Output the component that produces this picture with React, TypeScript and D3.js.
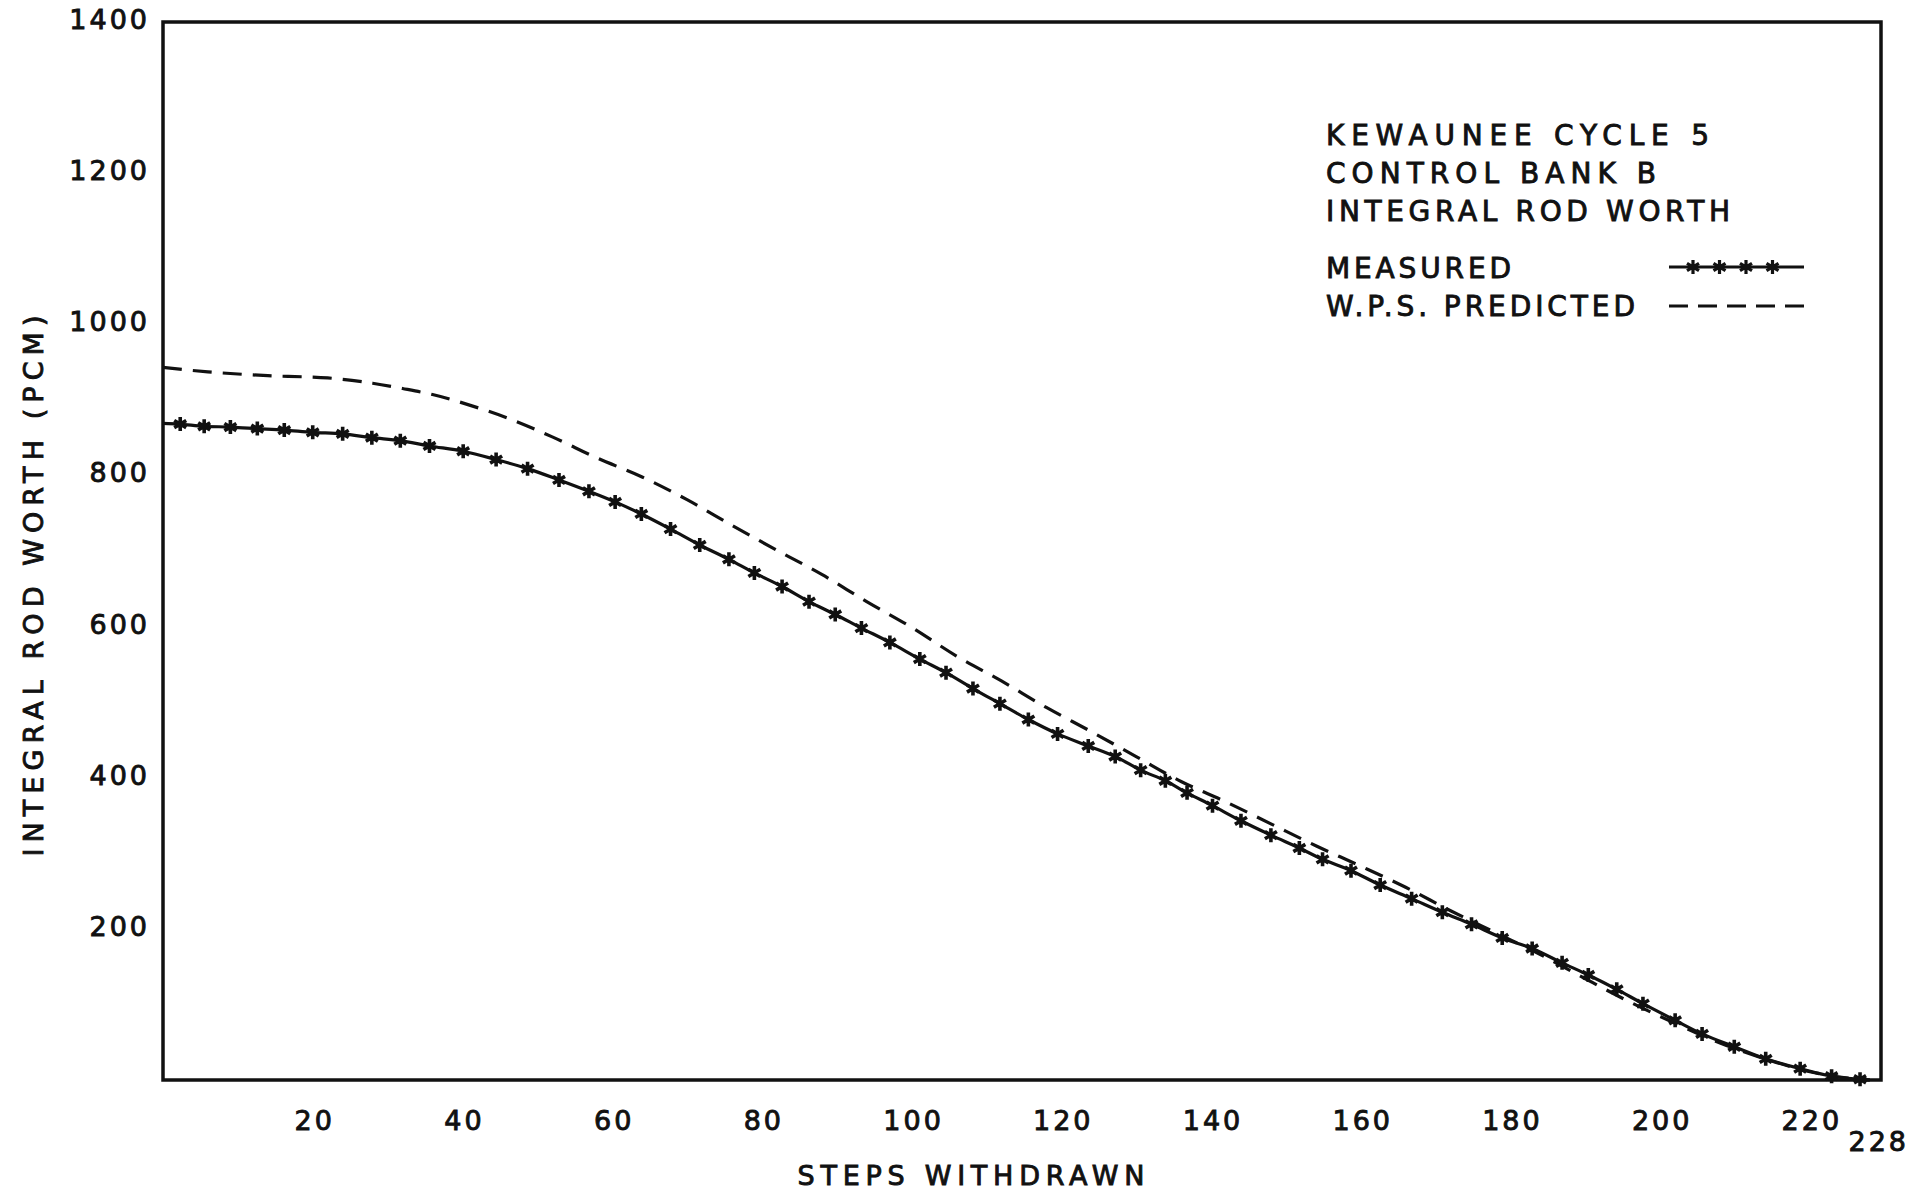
import * as React from 'react';
import * as d3 from 'd3';

// integral rod worth, control bank B
const measuredAtZero = 869;
const measuredSteps = [
  2.3, 5.5, 9, 12.6, 16.2, 20, 24, 27.9, 31.7, 35.6, 40.1, 44.5,
  48.7, 52.9, 56.9, 60.4, 63.9, 67.8, 71.7, 75.6, 79, 82.7, 86.3, 89.8,
  93.3, 97.1, 101.1, 104.6, 108.2, 111.8, 115.6, 119.5, 123.6, 127.2, 130.6, 133.9, 136.8,
  140.2, 144, 148, 151.8, 154.9, 158.7, 162.6, 166.8, 170.9, 174.8, 178.9, 182.9,
  186.9, 190.4, 194.2, 197.7, 202, 205.6, 209.9, 214.1, 218.7, 222.9, 226.7,
];
const measuredWorth = [
  868, 865, 864, 862, 860, 857, 855, 850, 846, 839, 832, 821,
  809, 794, 779, 765, 749, 729, 708, 689, 671, 653, 633, 616,
  598, 579, 557, 539, 518, 498, 477, 458, 442, 428, 410, 396, 380,
  363, 343, 324, 307, 292, 277, 258, 240, 222, 206, 188, 174,
  155, 139, 120, 101, 79, 61, 44, 28, 15, 5, 1,
];
const predictedSteps = [
  0, 6, 14, 22, 28, 32, 36, 40, 46, 52, 58, 64, 70, 76, 82, 88, 94, 100,
  106, 112, 118, 124, 130, 136, 142, 148, 154, 160, 166, 172, 178, 184,
  190, 196, 202, 208, 214, 220, 224, 228,
];
const predictedWorth = [
  943, 937, 932, 929, 922, 915, 907, 896, 876, 851, 823, 798, 768, 734, 701, 669, 633, 599,
  561, 528, 493, 461, 428, 395, 368, 339, 310, 283, 255, 224, 195, 166,
  134, 103, 75, 49, 28, 11, 4, 0,
];

const xTicks = [20, 40, 60, 80, 100, 120, 140, 160, 180, 200, 220];
const xEndTick = 228;
const yTicks = [200, 400, 600, 800, 1000, 1200, 1400];
const titleLines = ['KEWAUNEE CYCLE 5', 'CONTROL BANK B', 'INTEGRAL ROD WORTH'];
const legendLabels = ['MEASURED', 'W.P.S. PREDICTED'];

const W = 1920;
const H = 1193;
const left = 163;
const right = 1881;
const top = 22;
const bottom = 1080;
const font = '"DejaVu Sans", sans-serif';
const ink = '#111';
const starPath = 'M0,-7V7M-6,-3.6L6,3.6M-6,3.6L6,-3.6';

// lettering in the original is a bit heavier than DejaVu Book
function lettering(sel: d3.Selection<SVGTextElement, any, any, any>, size: number) {
  return sel
    .attr('font-size', size)
    .attr('font-family', font)
    .attr('fill', ink)
    .attr('stroke', ink)
    .attr('stroke-width', 0.9);
}

export default function App() {
  const svgRef = React.useRef<SVGSVGElement>(null);

  React.useEffect(() => {
    if (!svgRef.current) return;
    const svg = d3.select(svgRef.current);
    svg.selectAll('*').remove();

    const x = d3.scaleLinear().domain([0, 229.5]).range([left, right]);
    const y = d3.scaleLinear().domain([0, 1400]).range([bottom, top]);

    svg.append('rect').attr('width', W).attr('height', H).attr('fill', '#fff');

    // frame
    svg
      .append('rect')
      .attr('x', left)
      .attr('y', top)
      .attr('width', right - left)
      .attr('height', bottom - top)
      .attr('fill', 'none')
      .attr('stroke', ink)
      .attr('stroke-width', 3.5);

    const line = d3
      .line<[number, number]>()
      .x((d) => x(d[0]))
      .y((d) => y(d[1]))
      .curve(d3.curveCatmullRom.alpha(0.5));

    const predicted: [number, number][] = predictedSteps.map((s, i) => [s, predictedWorth[i]]);
    const measured: [number, number][] = measuredSteps.map((s, i) => [s, measuredWorth[i]]);

    svg
      .append('path')
      .attr('d', line(predicted))
      .attr('fill', 'none')
      .attr('stroke', ink)
      .attr('stroke-width', 3.2)
      .attr('stroke-dasharray', '19 11');

    svg
      .append('path')
      .attr('d', line([[0, measuredAtZero], ...measured, [228, 0]]))
      .attr('fill', 'none')
      .attr('stroke', ink)
      .attr('stroke-width', 3.2);

    svg
      .append('g')
      .selectAll('path')
      .data(measured)
      .enter()
      .append('path')
      .attr('transform', (d) => `translate(${x(d[0])},${y(d[1])})`)
      .attr('d', starPath)
      .attr('stroke', ink)
      .attr('stroke-width', 3.6)
      .attr('fill', 'none');

    // y tick labels
    svg
      .append('g')
      .selectAll('text')
      .data(yTicks)
      .enter()
      .append('text')
      .attr('x', 150)
      .attr('y', (d) => y(d) + 7)
      .attr('text-anchor', 'end')
      .style('letter-spacing', '3px')
      .call((s) => lettering(s as any, 27))
      .text((d) => d);

    // x tick labels
    svg
      .append('g')
      .selectAll('text')
      .data(xTicks)
      .enter()
      .append('text')
      .attr('x', (d) => x(d) + 2)
      .attr('y', 1130)
      .attr('text-anchor', 'middle')
      .style('letter-spacing', '3px')
      .call((s) => lettering(s as any, 27))
      .text((d) => d);

    svg
      .append('text')
      .attr('x', x(xEndTick) + 9)
      .attr('y', 1151)
      .attr('text-anchor', 'middle')
      .style('letter-spacing', '3px')
      .call((s) => lettering(s, 27))
      .text(xEndTick);

    // axis titles
    svg
      .append('text')
      .attr('x', 971)
      .attr('y', 1185)
      .attr('text-anchor', 'middle')
      .attr('textLength', 347)
      .attr('lengthAdjust', 'spacing')
      .call((s) => lettering(s, 27))
      .text('STEPS WITHDRAWN');

    svg
      .append('text')
      .attr('transform', 'translate(43,586) rotate(-90)')
      .attr('text-anchor', 'middle')
      .attr('textLength', 541)
      .attr('lengthAdjust', 'spacing')
      .call((s) => lettering(s, 27))
      .text('INTEGRAL ROD WORTH (PCM)');

    // title block
    const titleBase = [145, 183, 221];
    const titleLen = [383, 330, 404];
    titleLines.forEach((t, i) => {
      svg
        .append('text')
        .attr('x', 1326)
        .attr('y', titleBase[i])
        .attr('textLength', titleLen[i])
        .attr('lengthAdjust', 'spacing')
        .call((s) => lettering(s, 28))
        .text(t);
    });

    // legend
    const legendBase = [278, 316];
    const legendLen = [185, 309];
    legendLabels.forEach((t, i) => {
      svg
        .append('text')
        .attr('x', 1326)
        .attr('y', legendBase[i])
        .attr('textLength', legendLen[i])
        .attr('lengthAdjust', 'spacing')
        .call((s) => lettering(s, 28))
        .text(t);
    });

    const lx0 = 1669;
    const lx1 = 1804;
    svg
      .append('line')
      .attr('x1', lx0)
      .attr('x2', lx1)
      .attr('y1', 267)
      .attr('y2', 267)
      .attr('stroke', ink)
      .attr('stroke-width', 3);
    d3.range(4).forEach((k) => {
      svg
        .append('path')
        .attr('transform', `translate(${lx0 + 24 + k * 26.5},267)`)
        .attr('d', starPath)
        .attr('stroke', ink)
        .attr('stroke-width', 3.2)
        .attr('fill', 'none');
    });
    svg
      .append('line')
      .attr('x1', lx0)
      .attr('x2', lx1)
      .attr('y1', 306)
      .attr('y2', 306)
      .attr('stroke', ink)
      .attr('stroke-width', 3)
      .attr('stroke-dasharray', '19 10');
  }, []);

  return (
    <div style={{ position: 'absolute', left: 0, top: 0, width: W, height: H, background: '#fff' }}>
      <svg ref={svgRef} width={W} height={H} style={{ display: 'block' }} />
    </div>
  );
}
